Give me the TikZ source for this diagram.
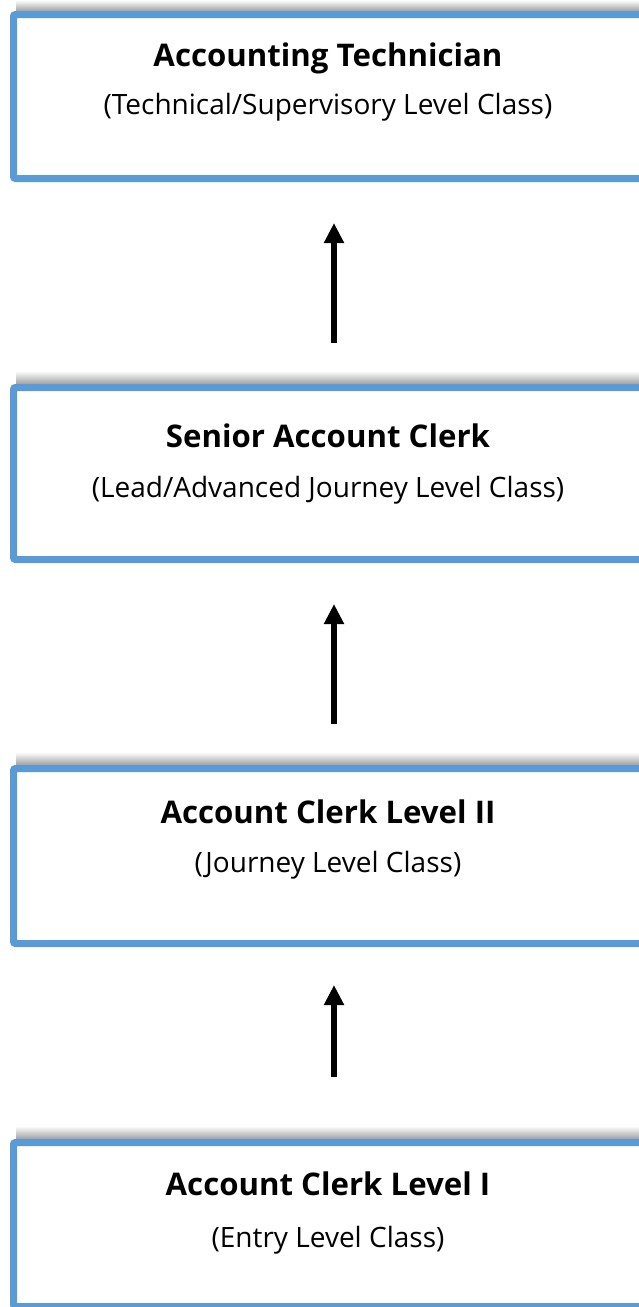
\documentclass[tikz,border=0pt]{standalone}
\usepackage{fontspec}
\setmainfont{Open Sans}
\usetikzlibrary{arrows.meta}
\definecolor{boxblue}{HTML}{5B9BD5}
\tikzset{
  box/.style={draw=boxblue, line width=7pt, rounded corners=2pt, fill=white, minimum width=629pt, inner sep=0pt, outer sep=3.5pt},
  ttl/.style={anchor=base, font=\fontsize{31.2}{36}\selectfont\bfseries},
  sub/.style={anchor=base, font=\fontsize{28}{32}\selectfont},
  arr/.style={line width=6pt, -{Triangle[width=19pt,length=20pt]}},
  shad/.style={top color=white, bottom color=black!40}
}
\begin{document}
\begin{tikzpicture}[x=1pt,y=-1pt]
\useasboundingbox (0,0) rectangle (639,1307);
\clip (0,0) rectangle (639,1307);
\fill[white] (0,0) rectangle (639,1307);
% shadows
\shade[shad] (16,0) rectangle (660,12);
\shade[shad] (16,371) rectangle (660,385);
\shade[shad] (16,752) rectangle (660,766);
\shade[shad] (16,1126) rectangle (660,1140);
% boxes
\node[box, minimum height=164pt] (b1) at (328,96.5) {};
\node[box, minimum height=172pt] (b2) at (328,473.5) {};
\node[box, minimum height=175pt] (b3) at (328,856) {};
\node[box, minimum height=164pt] (b4) at (328,1224.5) {};
% texts
\node[ttl] (t1) at (328,66) {Accounting Technician};
\node[sub] (s1) at (328,114) {(Technical/Supervisory Level Class)};
\node[ttl] (t2) at (328,447.5) {Senior Account Clerk};
\node[sub] (s2) at (328,497) {(Lead/Advanced Journey Level Class)};
\node[ttl] (t3) at (328,823.5) {Account Clerk Level II};
\node[sub] (s3) at (328,872) {(Journey Level Class)};
\node[ttl] (t4) at (328,1195) {Account Clerk Level I};
\node[sub] (s4) at (328,1247) {(Entry Level Class)};
% arrows
\draw[arr, shorten <=41pt, shorten >=41pt] ([xshift=6pt]b2.north) -- ([xshift=6pt]b1.south);
\draw[arr, shorten <=41pt, shorten >=41pt] ([xshift=6pt]b3.north) -- ([xshift=6pt]b2.south);
\draw[arr, shorten <=62pt, shorten >=38pt] ([xshift=6pt]b4.north) -- ([xshift=6pt]b3.south);
\end{tikzpicture}
\end{document}
